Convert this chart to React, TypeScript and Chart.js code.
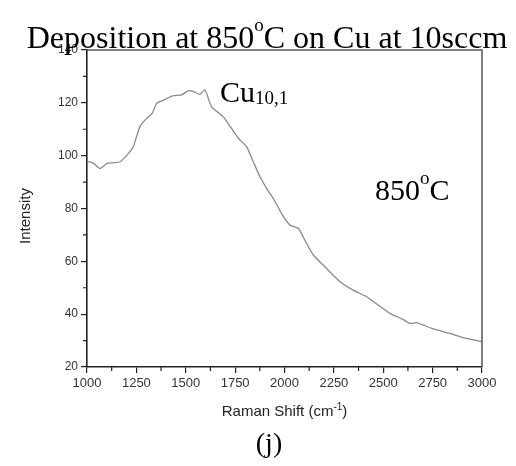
import React, { useEffect, useRef } from "react";
import { Chart, registerables } from "chart.js";

Chart.register(...registerables);

const ramanShift = [
  1000, 1030, 1066, 1100, 1130, 1167, 1200, 1234, 1268, 1302, 1330, 1353, 1387, 1437, 1479, 1513, 1540,
  1572, 1597, 1631, 1690, 1730, 1766, 1808, 1843, 1876, 1910, 1943, 1990, 2028, 2070, 2110, 2146, 2210,
  2281, 2350, 2416, 2451, 2534, 2600, 2635, 2669, 2750, 2838, 2900, 2973, 3000,
];
const intensity = [
  97.7, 97.3, 95.2, 97.0, 97.3, 97.7, 100.0, 103.4, 111.0, 114.1, 116.0, 119.8, 121.0, 122.7, 123.0, 124.6, 124.2,
  123.2, 124.9, 118.5, 114.7, 110.5, 106.6, 103.4, 97.5, 92.0, 87.5, 83.8, 77.5, 73.7, 72.5, 67.0, 62.4, 57.5,
  52.3, 49.0, 46.6, 44.7, 40.3, 38.0, 36.5, 36.8, 34.5, 32.7, 31.2, 30.0, 29.6,
];
const xTicks = [1000, 1250, 1500, 1750, 2000, 2250, 2500, 2750, 3000];
const xMinorTicks = [1125, 1375, 1625, 1875, 2125, 2375, 2625, 2875];
const yTicks = [20, 40, 60, 80, 100, 120, 140];
const yMinorTicks = [30, 50, 70, 90, 110, 130];

const SERIF = "'Liberation Serif', 'Times New Roman', serif";
const SANS = "'Liberation Sans', Arial, sans-serif";

type Part = { t: string; size: number; dy: number };

function drawParts(ctx: CanvasRenderingContext2D, parts: Part[], x: number, y: number, family: string, align: "left" | "center") {
  let total = 0;
  const widths = parts.map((p) => {
    ctx.font = `${p.size}px ${family}`;
    const w = ctx.measureText(p.t).width;
    total += w;
    return w;
  });
  let cx = align === "center" ? x - total / 2 : x;
  ctx.textBaseline = "alphabetic";
  ctx.textAlign = "left";
  parts.forEach((p, i) => {
    ctx.font = `${p.size}px ${family}`;
    ctx.fillText(p.t, cx, y + p.dy);
    cx += widths[i];
  });
}

const overlayPlugin = {
  id: "overlay",
  afterDraw(chart: any) {
    const ctx: CanvasRenderingContext2D = chart.ctx;
    const { left, right, top, bottom } = chart.chartArea;
    const xs = chart.scales.x;
    const ys = chart.scales.y;
    ctx.save();
    // frame top and right
    ctx.strokeStyle = "#555";
    ctx.lineWidth = 1.5;
    ctx.beginPath();
    ctx.moveTo(left, top);
    ctx.lineTo(right, top);
    ctx.lineTo(right, bottom);
    ctx.stroke();
    // minor ticks
    ctx.strokeStyle = "#222";
    ctx.lineWidth = 1.2;
    ctx.beginPath();
    xMinorTicks.forEach((v) => {
      const px = xs.getPixelForValue(v);
      ctx.moveTo(px, bottom);
      ctx.lineTo(px, bottom + 4);
    });
    yMinorTicks.forEach((v) => {
      const py = ys.getPixelForValue(v);
      ctx.moveTo(left, py);
      ctx.lineTo(left - 4, py);
    });
    ctx.stroke();

    ctx.fillStyle = "#000";
    // title
    drawParts(
      ctx,
      [
        { t: "Deposition at 850", size: 32, dy: 0 },
        { t: "o", size: 19, dy: -17 },
        { t: "C on Cu at 10sccm", size: 32, dy: 0 },
      ],
      267,
      48,
      SERIF,
      "center"
    );
    // Cu10,1
    drawParts(
      ctx,
      [
        { t: "Cu", size: 30, dy: 0 },
        { t: "10,1", size: 19, dy: 2 },
      ],
      220,
      102,
      SERIF,
      "left"
    );
    // 850°C
    drawParts(
      ctx,
      [
        { t: "850", size: 30, dy: 0 },
        { t: "o", size: 19, dy: -16 },
        { t: "C", size: 30, dy: 0 },
      ],
      375,
      200,
      SERIF,
      "left"
    );
    // (j)
    drawParts(ctx, [{ t: "(j)", size: 28, dy: 0 }], 269, 452, SERIF, "center");

    // axis titles
    ctx.fillStyle = "#222";
    drawParts(
      ctx,
      [
        { t: "Raman Shift (cm", size: 15, dy: 0 },
        { t: "-1", size: 10, dy: -6 },
        { t: ")", size: 15, dy: 0 },
      ],
      (left + right) / 2,
      416,
      SANS,
      "center"
    );
    ctx.save();
    ctx.translate(30, 216);
    ctx.rotate(-Math.PI / 2);
    drawParts(ctx, [{ t: "Intensity", size: 15, dy: 0 }], 0, 0, SANS, "center");
    ctx.restore();
    ctx.restore();
  },
};

export default function App() {
  const ref = useRef<HTMLCanvasElement | null>(null);
  useEffect(() => {
    document.body.style.margin = "0";
    const canvas = ref.current;
    if (!canvas) return;
    const chart = new Chart(canvas, {
      type: "line",
      data: {
        datasets: [
          {
            data: ramanShift.map((x, i) => ({ x, y: intensity[i] })),
            borderColor: "#8a8a8a",
            borderWidth: 1.3,
            pointRadius: 0,
            tension: 0.2,
            fill: false,
          },
        ],
      },
      options: {
        animation: false,
        responsive: false,
        maintainAspectRatio: false,
        layout: { padding: { top: 50, right: 34, left: 0, bottom: 0 } },
        plugins: { legend: { display: false }, tooltip: { enabled: false }, title: { display: false } },
        scales: {
          x: {
            type: "linear",
            min: 1000,
            max: 3000,
            afterBuildTicks: (s: any) => {
              s.ticks = xTicks.map((v) => ({ value: v }));
            },
            afterFit: (s: any) => {
              s.height = 99;
            },
            ticks: {
              autoSkip: false,
              maxRotation: 0,
              color: "#333",
              font: { family: SANS, size: 13 },
              padding: 3,
              callback: (v: any) => String(v),
            },
            grid: { display: true, drawOnChartArea: false, drawTicks: true, tickLength: 6, color: "#222", lineWidth: 1.2 },
            border: { display: true, color: "#222", width: 1.6 },
          },
          y: {
            type: "linear",
            min: 20,
            max: 140,
            afterBuildTicks: (s: any) => {
              s.ticks = yTicks.map((v) => ({ value: v }));
            },
            afterFit: (s: any) => {
              s.width = 87;
            },
            ticks: {
              color: "#333",
              font: { family: SANS, size: 12 },
              padding: 3,
              callback: (v: any) => String(v),
            },
            grid: { display: true, drawOnChartArea: false, drawTicks: true, tickLength: 6, color: "#222", lineWidth: 1.2 },
            border: { display: true, color: "#222", width: 1.6 },
          },
        },
      },
      plugins: [overlayPlugin],
    });
    return () => chart.destroy();
  }, []);
  return <canvas ref={ref} width={516} height={466} style={{ display: "block" }} />;
}
